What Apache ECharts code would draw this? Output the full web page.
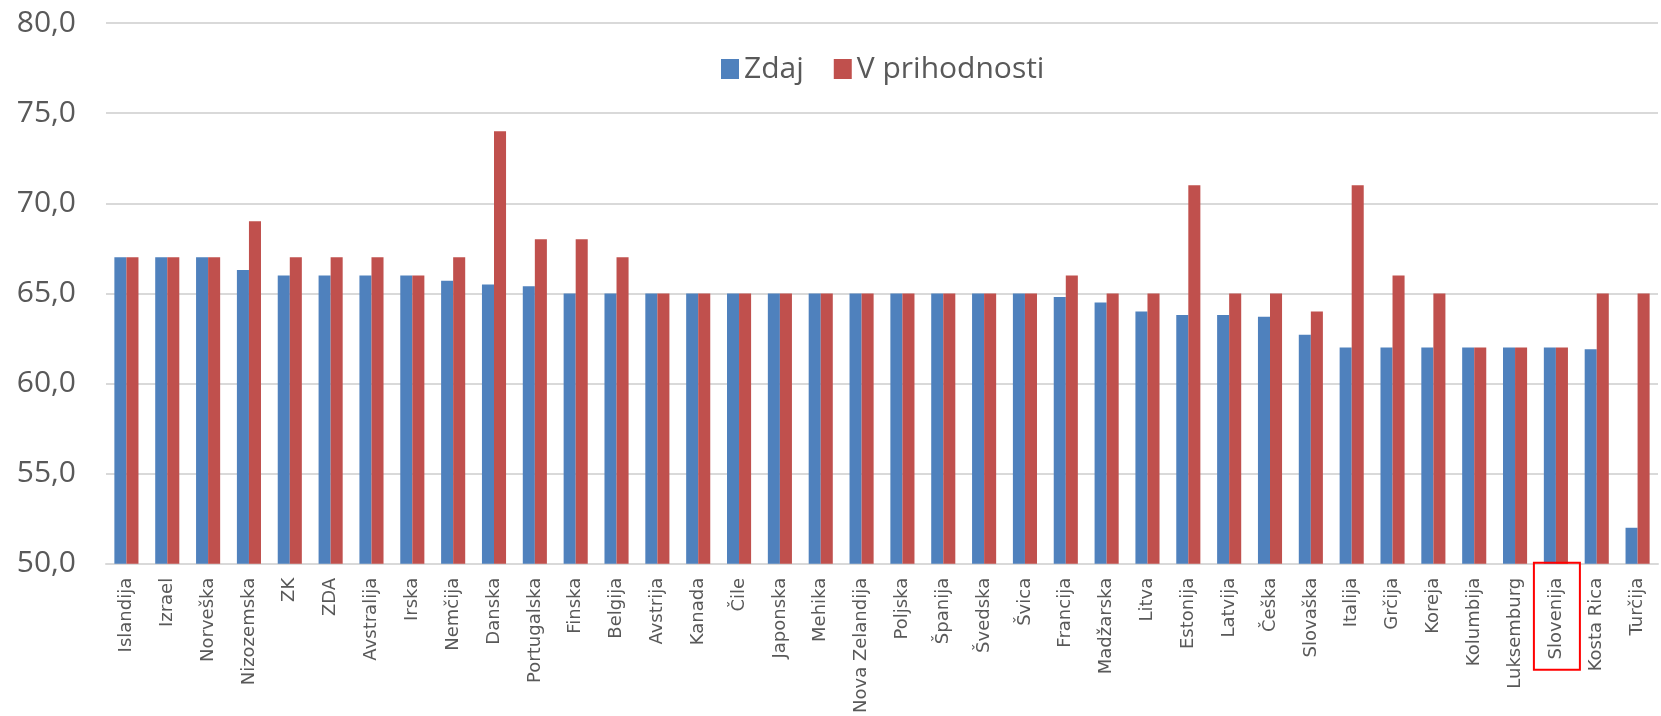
<!DOCTYPE html>
<html>
<head>
<meta charset="utf-8">
<script src="https://cdn.jsdelivr.net/npm/echarts@6/dist/echarts.min.js"></script>
<style>
  html, body { margin: 0; padding: 0; background: #fff; }
  #chart { width: 1661px; height: 716px; }
</style>
</head>
<body>
<div id="chart"></div>
<script>
// države
var countries = ['Islandija', 'Izrael', 'Norveška', 'Nizozemska', 'ZK', 'ZDA', 'Avstralija', 'Irska', 'Nemčija', 'Danska',
  'Portugalska', 'Finska', 'Belgija', 'Avstrija', 'Kanada', 'Čile', 'Japonska', 'Mehika', 'Nova Zelandija', 'Poljska',
  'Španija', 'Švedska', 'Švica', 'Francija', 'Madžarska', 'Litva', 'Estonija', 'Latvija', 'Češka', 'Slovaška',
  'Italija', 'Grčija', 'Koreja', 'Kolumbija', 'Luksemburg', 'Slovenija', 'Kosta Rica', 'Turčija']
// upokojitvena starost zdaj
var zdaj = [67, 67, 67, 66.3, 66, 66, 66, 66, 65.7, 65.5,
  65.4, 65, 65, 65, 65, 65, 65, 65, 65, 65,
  65, 65, 65, 64.8, 64.5, 64, 63.8, 63.8, 63.7, 62.7,
  62, 62, 62, 62, 62, 62, 61.9, 52]
// upokojitvena starost v prihodnosti
var prihodnost = [67, 67, 67, 69, 67, 67, 67, 66, 67, 74,
  68, 68, 67, 65, 65, 65, 65, 65, 65, 65,
  65, 65, 65, 66, 65, 65, 71, 65, 65, 64,
  71, 66, 65, 62, 62, 62, 65, 65]
var yTicks = [50, 55, 60, 65, 70, 75, 80]
var highlighted = 'Slovenija'

var chart = echarts.init(document.getElementById('chart'))
var textColor = '#595959'
var gridColor = '#D9D9D9'

var option = {
  animation: false,
  grid: { left: 106, right: 3, top: 23, bottom: 151 },
  legend: {
    data: ['Zdaj', 'V prihodnosti'],
    left: 716,
    top: 49,
    icon: 'rect',
    itemWidth: 18,
    itemHeight: 20,
    itemGap: 30,
    textStyle: { color: textColor, fontSize: 30, fontFamily: 'Open Sans' }
  },
  xAxis: {
    type: 'category',
    data: countries,
    axisTick: { show: false },
    axisLine: { lineStyle: { color: gridColor, width: 2 } },
    axisLabel: {
      rotate: 90,
      interval: 0,
      margin: 14,
      color: textColor,
      fontSize: 18,
      fontFamily: 'DejaVu Sans'
    }
  },
  yAxis: {
    type: 'value',
    min: yTicks[0],
    max: yTicks[yTicks.length - 1],
    interval: 5,
    axisLine: { show: false },
    axisTick: { show: false },
    splitLine: { lineStyle: { color: gridColor, width: 2 } },
    axisLabel: {
      margin: 30,
      color: textColor,
      fontSize: 30,
      fontFamily: 'Open Sans',
      formatter: function(v) { return v.toFixed(1).replace('.', ',') }
    }
  },
  series: [
    {
      name: 'Zdaj',
      type: 'bar',
      data: zdaj,
      barGap: '0%',
      barCategoryGap: '41%',
      itemStyle: { color: '#4F81BD' }
    },
    {
      name: 'V prihodnosti',
      type: 'bar',
      data: prihodnost,
      itemStyle: { color: '#C0504D' }
    }
  ]
}
chart.setOption(option)

// rdeč okvir okoli oznake Slovenije
var cx = chart.convertToPixel({ xAxisIndex: 0 }, highlighted)
var baseY = chart.convertToPixel({ yAxisIndex: 0 }, yTicks[0])
chart.setOption({
  graphic: [{
    type: 'rect',
    shape: { x: cx - 22, y: baseY - 1, width: 46, height: 107 },
    style: { fill: 'none', stroke: '#FF0000', lineWidth: 2 },
    z: 100
  }]
})
</script>
</body>
</html>
